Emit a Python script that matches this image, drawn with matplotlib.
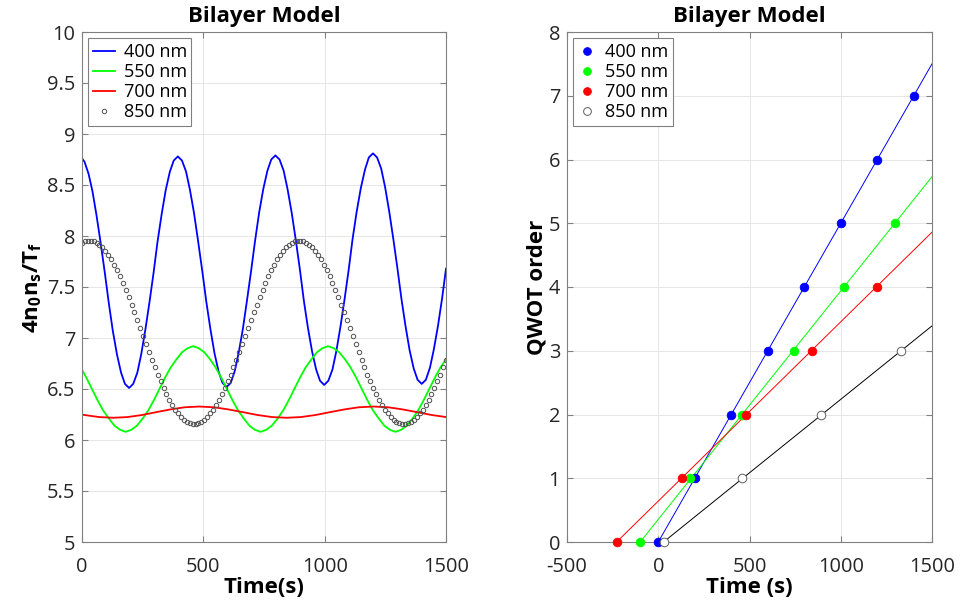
import matplotlib
matplotlib.use("Agg")
import matplotlib.pyplot as plt

plt.rcParams['font.family'] = ['Open Sans', 'DejaVu Sans']
plt.rcParams['mathtext.fontset'] = 'custom'
plt.rcParams['mathtext.rm'] = 'Open Sans:bold'
plt.rcParams['mathtext.it'] = 'Open Sans:bold'
plt.rcParams['mathtext.bf'] = 'Open Sans:bold'
plt.rcParams['mathtext.default'] = 'rm'

# ---------------- Left panel data: 4 n0 ns / Tf vs time ----------------
TIME_400 = [0, 10, 27, 43, 60, 77, 94, 110, 127, 144, 161, 177,
            194, 211, 228, 244, 261, 278, 295, 311, 328, 345, 362, 378,
            395, 412, 429, 445, 462, 479, 496, 512, 529, 546, 563, 579,
            596, 613, 630, 646, 663, 680, 697, 713, 730, 747, 764, 780,
            797, 814, 831, 847, 864, 881, 898, 914, 931, 948, 965, 981,
            998, 1015, 1032, 1048, 1065, 1082, 1099, 1115, 1132, 1149, 1166, 1182,
            1199, 1216, 1233, 1249, 1266, 1283, 1300, 1316, 1333, 1350, 1367, 1383,
            1400, 1417, 1434, 1450, 1467, 1484, 1500]
VAL_400 = [8.76, 8.73, 8.61, 8.44, 8.20, 7.93, 7.64, 7.35, 7.07, 6.84, 6.66, 6.55,
           6.51, 6.55, 6.66, 6.84, 7.08, 7.35, 7.64, 7.94, 8.21, 8.45, 8.63, 8.74,
           8.78, 8.74, 8.63, 8.45, 8.22, 7.94, 7.65, 7.36, 7.09, 6.85, 6.67, 6.56,
           6.52, 6.56, 6.68, 6.86, 7.09, 7.37, 7.66, 7.95, 8.23, 8.46, 8.64, 8.75,
           8.79, 8.75, 8.64, 8.46, 8.23, 7.96, 7.67, 7.37, 7.10, 6.87, 6.69, 6.58,
           6.54, 6.58, 6.69, 6.87, 7.11, 7.38, 7.67, 7.97, 8.24, 8.47, 8.65, 8.77,
           8.81, 8.77, 8.66, 8.48, 8.24, 7.97, 7.68, 7.39, 7.12, 6.88, 6.70, 6.59,
           6.55, 6.59, 6.71, 6.89, 7.12, 7.39, 7.68]

TIME_550 = [0, 18, 41, 64, 87, 111, 134, 157, 180, 203, 226, 250,
            273, 296, 319, 342, 365, 389, 412, 435, 458, 481, 504, 528,
            551, 574, 597, 620, 643, 667, 690, 713, 736, 759, 782, 806,
            829, 852, 875, 898, 921, 945, 968, 991, 1014, 1037, 1060, 1084,
            1107, 1130, 1153, 1176, 1199, 1223, 1246, 1269, 1292, 1315, 1338, 1362,
            1385, 1408, 1431, 1454, 1477, 1500]
VAL_550 = [6.69, 6.61, 6.50, 6.39, 6.29, 6.21, 6.14, 6.10, 6.08, 6.10, 6.14, 6.21,
           6.29, 6.39, 6.50, 6.61, 6.71, 6.79, 6.86, 6.90, 6.92, 6.90, 6.86, 6.79,
           6.71, 6.61, 6.50, 6.39, 6.29, 6.21, 6.14, 6.10, 6.08, 6.10, 6.14, 6.21,
           6.29, 6.39, 6.50, 6.61, 6.71, 6.79, 6.86, 6.90, 6.92, 6.90, 6.86, 6.79,
           6.71, 6.61, 6.50, 6.39, 6.29, 6.21, 6.14, 6.10, 6.08, 6.10, 6.14, 6.21,
           6.29, 6.39, 6.50, 6.61, 6.71, 6.79]

TIME_700 = [0, 10, 70, 129, 188, 247, 306, 365, 424, 483, 543, 603, 663, 723,
            783, 843, 903, 962, 1022, 1082, 1141, 1201, 1261, 1321, 1381, 1441, 1500]
VAL_700 = [6.250, 6.245, 6.225, 6.218, 6.225, 6.245, 6.273, 6.300, 6.321, 6.328,
           6.321, 6.300, 6.273, 6.245, 6.225, 6.218, 6.225, 6.245, 6.273, 6.300,
           6.321, 6.328, 6.321, 6.300, 6.273, 6.245, 6.225]

TIME_850 = [0, 12, 24, 36, 48, 60, 72, 84, 96, 108, 120, 132,
            144, 156, 168, 180, 192, 204, 216, 228, 240, 252, 264, 276,
            288, 300, 312, 324, 336, 348, 360, 372, 384, 396, 408, 420,
            432, 444, 456, 468, 480, 492, 504, 516, 528, 540, 552, 564,
            576, 588, 600, 612, 624, 636, 648, 660, 672, 684, 696, 708,
            720, 732, 744, 756, 768, 780, 792, 804, 816, 828, 840, 852,
            864, 876, 888, 900, 912, 924, 936, 948, 960, 972, 984, 996,
            1008, 1020, 1032, 1044, 1056, 1068, 1080, 1092, 1104, 1116, 1128, 1140,
            1152, 1164, 1176, 1188, 1200, 1212, 1224, 1236, 1248, 1260, 1272, 1284,
            1296, 1308, 1320, 1332, 1344, 1356, 1368, 1380, 1392, 1404, 1416, 1428,
            1440, 1452, 1464, 1476, 1488, 1500]
VAL_850 = [7.935, 7.948, 7.955, 7.955, 7.948, 7.935, 7.914, 7.888, 7.854, 7.815, 7.770, 7.720,
           7.664, 7.604, 7.540, 7.472, 7.401, 7.327, 7.252, 7.174, 7.096, 7.018, 6.940, 6.862,
           6.787, 6.713, 6.642, 6.574, 6.510, 6.450, 6.394, 6.344, 6.299, 6.260, 6.226, 6.200,
           6.179, 6.166, 6.159, 6.159, 6.166, 6.179, 6.200, 6.226, 6.260, 6.299, 6.344, 6.394,
           6.450, 6.510, 6.574, 6.642, 6.713, 6.787, 6.862, 6.940, 7.018, 7.096, 7.174, 7.252,
           7.327, 7.401, 7.472, 7.540, 7.604, 7.664, 7.720, 7.770, 7.815, 7.854, 7.888, 7.914,
           7.935, 7.948, 7.955, 7.955, 7.948, 7.935, 7.914, 7.888, 7.854, 7.815, 7.770, 7.720,
           7.664, 7.604, 7.540, 7.472, 7.401, 7.327, 7.252, 7.174, 7.096, 7.018, 6.940, 6.862,
           6.787, 6.713, 6.642, 6.574, 6.510, 6.450, 6.394, 6.344, 6.299, 6.260, 6.226, 6.200,
           6.179, 6.166, 6.159, 6.159, 6.166, 6.179, 6.200, 6.226, 6.260, 6.299, 6.344, 6.394,
           6.450, 6.510, 6.574, 6.642, 6.713, 6.787]

# ---------------- Right panel data: QWOT order vs time ----------------
QT_400 = [0, 199, 400, 600, 797, 1000, 1200, 1400]
QO_400 = [0, 1, 2, 3, 4, 5, 6, 7]
QT_550 = [-99, 176, 460, 742, 1016, 1296]
QO_550 = [0, 1, 2, 3, 4, 5]
QT_700 = [-228, 129, 483, 843, 1201]
QO_700 = [0, 1, 2, 3, 4]
QT_850 = [29, 461, 893, 1330]
QO_850 = [0, 1, 2, 3]
# fitted-line ends at t = 1500 s
FIT_END_T = 1500
FIT_END_400 = 7.50
FIT_END_550 = 5.73
FIT_END_700 = 4.86
FIT_END_850 = 3.39

LABELS = ['400 nm', '550 nm', '700 nm', '850 nm']
COLORS = ['#0000ff', '#00ff00', '#ff0000', '#000000']

LEFT_YTICKS = [5, 5.5, 6, 6.5, 7, 7.5, 8, 8.5, 9, 9.5, 10]
LEFT_YTICKLABELS = ['5', '5.5', '6', '6.5', '7', '7.5', '8', '8.5', '9', '9.5', '10']
LEFT_XTICKS = [0, 500, 1000, 1500]
RIGHT_XTICKS = [-500, 0, 500, 1000, 1500]
RIGHT_XTICKLABELS = ['-500', '0', '500', '1000', '1500']
RIGHT_YTICKS = [0, 1, 2, 3, 4, 5, 6, 7, 8]

SPINE = '#808080'
TXT = '#262626'
GRID = '#e6e6e6'

fig = plt.figure(figsize=(9.6, 6.08), dpi=100)
ax1 = fig.add_axes([82 / 960, 66 / 608, 364 / 960, 510 / 608])
ax2 = fig.add_axes([567 / 960, 66 / 608, 365 / 960, 510 / 608])


def style(ax):
    ax.set_axisbelow(True)
    ax.grid(True, color=GRID, lw=0.7)
    for s in ax.spines.values():
        s.set_color(SPINE)
        s.set_linewidth(0.8)
    ax.tick_params(direction='in', top=True, right=True, length=4, width=0.8,
                   color=SPINE, labelsize=14.4, labelcolor=TXT, pad=5)
    ax.tick_params(axis='x', pad=11)


# Left panel
ax1.plot(TIME_400, VAL_400, color=COLORS[0], lw=1.3, label=LABELS[0])
ax1.plot(TIME_550, VAL_550, color=COLORS[1], lw=1.3, label=LABELS[1])
ax1.plot(TIME_700, VAL_700, color=COLORS[2], lw=1.3, label=LABELS[2])
ax1.plot(TIME_850, VAL_850, ls='none', marker='o', ms=3.2, mfc='none',
         mec='#505050', mew=0.7, label=LABELS[3])
ax1.set_xlim(0, 1500)
ax1.set_ylim(5, 10)
ax1.set_xticks(LEFT_XTICKS)
ax1.set_yticks(LEFT_YTICKS)
ax1.set_yticklabels(LEFT_YTICKLABELS)
style(ax1)
ax1.set_title('Bilayer Model', fontsize=16, fontweight='bold', pad=7)
ax1.set_xlabel('Time(s)', fontsize=16, fontweight='bold', labelpad=0)
ax1.set_ylabel('4n$_0$n$_s$/T$_f$', fontsize=16, fontweight='bold', labelpad=2)
leg1 = ax1.legend(loc='upper left', fontsize=13, fancybox=False, framealpha=1,
                  edgecolor=SPINE, handlelength=1.2, handletextpad=0.5,
                  labelspacing=0.12, borderpad=0.25, borderaxespad=0.35)
leg1.get_frame().set_linewidth(0.8)

# Right panel
series = [(QT_400, QO_400, FIT_END_400), (QT_550, QO_550, FIT_END_550),
          (QT_700, QO_700, FIT_END_700), (QT_850, QO_850, FIT_END_850)]
for (qt, qo, end), c in zip(series, COLORS):
    ax2.plot([qt[0], FIT_END_T], [qo[0], end], color=c, lw=0.7)
for i, ((qt, qo, end), c) in enumerate(zip(series, COLORS)):
    if i < 3:
        ax2.plot(qt, qo, ls='none', marker='o', ms=6.2, mfc=c, mec=c,
                 mew=0.6, label=LABELS[i], clip_on=False, zorder=3)
    else:
        ax2.plot(qt, qo, ls='none', marker='o', ms=6.2, mfc='white',
                 mec='#606060', mew=0.7, label=LABELS[i], clip_on=False, zorder=3)
ax2.set_xlim(-500, 1500)
ax2.set_ylim(0, 8)
ax2.set_xticks(RIGHT_XTICKS)
ax2.set_xticklabels(RIGHT_XTICKLABELS)
ax2.set_yticks(RIGHT_YTICKS)
style(ax2)
ax2.set_title('Bilayer Model', fontsize=16, fontweight='bold', pad=7)
ax2.set_xlabel('Time (s)', fontsize=16, fontweight='bold', labelpad=0)
ax2.set_ylabel('QWOT order', fontsize=16, fontweight='bold', labelpad=1)
leg2 = ax2.legend(loc='upper left', fontsize=13, fancybox=False, framealpha=1,
                  edgecolor=SPINE, handlelength=1.0, handletextpad=0.5,
                  labelspacing=0.12, borderpad=0.25, borderaxespad=0.35,
                  markerscale=0.9)
leg2.get_frame().set_linewidth(0.8)

fig.savefig('out.png', dpi=100)
